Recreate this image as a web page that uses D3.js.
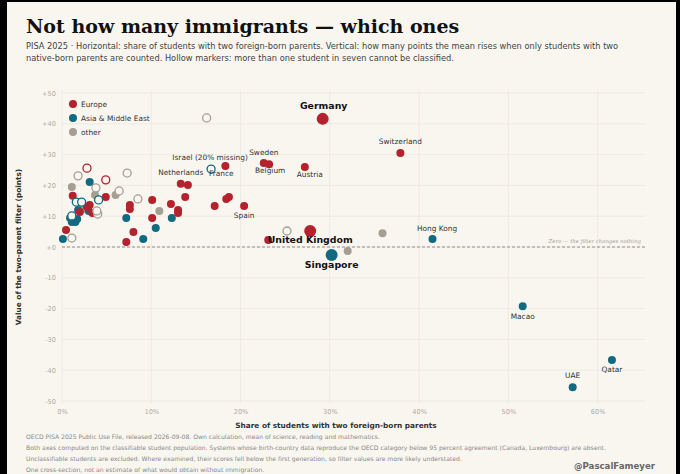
<!DOCTYPE html>
<html>
<head>
<meta charset="utf-8">
<script src="https://cdn.jsdelivr.net/npm/d3@7"></script>
<style>
    html, body { margin: 0; padding: 0; background: #000; }
    svg { display: block; }
</style>
</head>
<body>
<svg id="chart" width="680" height="474" font-family="DejaVu Sans, sans-serif"></svg>
<script>
// share of students with two foreign-born parents (%), filter value (points), hollow = >1/7 unclassifiable
var europe = [
    { name: 'Germany',        share: 29.2, gain: 41.6 },
    { name: 'Switzerland',    share: 37.9, gain: 30.5 },
    { name: 'Sweden',         share: 22.6, gain: 27.3 },
    { name: 'Belgium',        share: 23.2, gain: 26.9 },
    { name: 'Austria',        share: 27.2, gain: 26.0 },
    { name: 'France',         share: 18.3, gain: 26.3 },
    { name: 'Netherlands',    share: 13.3, gain: 20.5 },
    { name: '', share: 14.1, gain: 20.1 },
    { name: '', share: 13.8, gain: 16.2 },
    { name: '', share: 12.2, gain: 14.0 },
    { name: '', share: 13.0, gain: 12.0 },
    { name: '', share: 13.0, gain: 11.0 },
    { name: '', share: 17.1, gain: 13.3 },
    { name: '', share: 18.4, gain: 15.6 },
    { name: '', share: 18.7, gain: 16.2 },
    { name: 'Spain',          share: 20.4, gain: 13.3 },
    { name: 'United Kingdom', share: 27.8, gain: 5.2 },
    { name: '', share: 23.1, gain: 2.3 },
    { name: '', share: 10.1, gain: 15.3 },
    { name: '', share: 10.1, gain: 9.4 },
    { name: '', share: 7.6,  gain: 13.6 },
    { name: '', share: 7.6,  gain: 12.3 },
    { name: '', share: 8.0,  gain: 4.9 },
    { name: '', share: 7.2,  gain: 1.6 },
    { name: '', share: 4.9,  gain: 16.2 },
    { name: '', share: 1.2,  gain: 16.6 },
    { name: '', share: 2.0,  gain: 11.4 },
    { name: '', share: 2.8,  gain: 13.0 },
    { name: '', share: 3.1,  gain: 13.6 },
    { name: '', share: 3.4,  gain: 11.0 },
    { name: '', share: 0.45, gain: 5.5 },
    { name: '', share: 2.8,  gain: 25.6, hollow: true },
    { name: '', share: 4.9,  gain: 21.8, hollow: true }
];

var asiaMiddleEast = [
    { name: 'Singapore', share: 30.2, gain: -2.6 },
    { name: 'Hong Kong', share: 41.5, gain: 2.6 },
    { name: 'Macao',     share: 51.6, gain: -19.2 },
    { name: 'Qatar',     share: 61.6, gain: -36.7 },
    { name: 'UAE',       share: 57.2, gain: -45.5 },
    { name: '', share: 3.1,  gain: 21.1 },
    { name: '', share: 7.2,  gain: 9.4 },
    { name: '', share: 12.3, gain: 9.4 },
    { name: '', share: 10.5, gain: 6.2 },
    { name: '', share: 9.1,  gain: 2.6 },
    { name: '', share: 3.0,  gain: 11.7 },
    { name: '', share: 0.1,  gain: 2.6 },
    { name: '', share: 1.8,  gain: 12.0 },
    { name: '', share: 0.9,  gain: 9.4 },
    { name: '', share: 1.7,  gain: 9.1 },
    { name: '', share: 1.1,  gain: 8.1 },
    { name: '', share: 1.5,  gain: 8.1 },
    { name: 'Israel (20% missing)', share: 16.7, gain: 25.3, hollow: true },
    { name: '', share: 1.6,  gain: 14.6, hollow: true },
    { name: '', share: 2.2,  gain: 14.6, hollow: true },
    { name: '', share: 4.1,  gain: 15.3, hollow: true },
    { name: '', share: 1.1,  gain: 10.1, hollow: true }
];

var other = [
    { name: '', share: 32.0, gain: -1.3 },
    { name: '', share: 35.9, gain: 4.5 },
    { name: '', share: 10.9, gain: 11.7 },
    { name: '', share: 6.0,  gain: 16.9 },
    { name: '', share: 1.1,  gain: 19.5 },
    { name: '', share: 3.7,  gain: 16.9 },
    { name: '', share: 2.4,  gain: 12.3 },
    { name: '', share: 16.2, gain: 41.9, hollow: true },
    { name: '', share: 25.2, gain: 5.2,  hollow: true },
    { name: '', share: 1.8,  gain: 23.1, hollow: true },
    { name: '', share: 3.8,  gain: 19.2, hollow: true },
    { name: '', share: 6.4,  gain: 18.2, hollow: true },
    { name: '', share: 7.3,  gain: 24.0, hollow: true },
    { name: '', share: 8.5,  gain: 15.6, hollow: true },
    { name: '', share: 4.0,  gain: 10.7, hollow: true },
    { name: '', share: 3.9,  gain: 11.7, hollow: true },
    { name: '', share: 1.1,  gain: 2.9,  hollow: true }
];

var regions     = ['Europe', 'Asia & Middle East', 'other'];
var highlighted = ['Germany', 'United Kingdom', 'Singapore'];
var xTicks      = [0, 10, 20, 30, 40, 50, 60];
var yTicks      = [50, 40, 30, 20, 10, 0, -10, -20, -30, -40, -50];

var title    = 'Not how many immigrants \u2014 which ones';
var subtitle = [
    'PISA 2025 \u00b7 Horizontal: share of students with two foreign-born parents. Vertical: how many points the mean rises when only students with two',
    'native-born parents are counted. Hollow markers: more than one student in seven cannot be classified.'
];
var footer = [
    'OECD PISA 2025 Public Use File, released 2026-09-08. Own calculation, mean of science, reading and mathematics.',
    'Both axes computed on the classifiable student population. Systems whose birth-country data reproduce the OECD category below 95 percent agreement (Canada, Luxembourg) are absent.',
    'Unclassifiable students are excluded. Where examined, their scores fell below the first generation, so filter values are more likely understated.',
    'One cross-section, not an estimate of what would obtain without immigration.'
];

// label offsets from the marker centre
var labelPos = {
    'Germany':              [1, -10],
    'Switzerland':          [0, -9],
    'Sweden':               [0, -8],
    'Belgium':              [1, 9],
    'Austria':              [5, 10],
    'France':               [-4, 10],
    'Israel (20% missing)': [-1, -9],
    'Netherlands':          [0, -9],
    'Spain':                [0, 12],
    'United Kingdom':       [0, 12.5],
    'Singapore':            [0, 13],
    'Hong Kong':            [4.5, -8],
    'Macao':                [0, 13],
    'Qatar':                [0, 11.5],
    'UAE':                  [0, -9]
};

var colors = { 'Europe': '#b3222d', 'Asia & Middle East': '#116a80', 'other': '#a49e93' };
var bg = '#f9f6f0';
var serif = 'DejaVu Serif, serif';

var svg = d3.select('#chart');

svg.append('rect')
    .attr('x', 7).attr('y', 2)
    .attr('width', 669).attr('height', 472)
    .attr('fill', bg)
;

var x = d3.scaleLinear().domain([0, 65.3]).range([62, 645]);
var y = d3.scaleLinear().domain([-50, 50]).range([401, 93]);

// grid
var grid = svg.append('g').attr('class', 'grid');

grid.selectAll('.gx')
    .data(xTicks)
    .enter().append('line')
    .attr('x1', d => x(d)).attr('x2', d => x(d))
    .attr('y1', y(50) - 3).attr('y2', y(-50) + 3)
    .attr('stroke', '#ece7de').attr('stroke-width', 0.8)
;

grid.selectAll('.gy')
    .data(yTicks)
    .enter().append('line')
    .attr('x1', x(0)).attr('x2', x(65.3))
    .attr('y1', d => y(d)).attr('y2', d => y(d))
    .attr('stroke', '#ece7de').attr('stroke-width', 0.8)
;

// axes (labels only)
var yAxis = d3.axisLeft(y)
    .tickValues(yTicks)
    .tickSize(0)
    .tickPadding(6)
    .tickFormat(d => (d >= 0 ? '+' : '-') + Math.abs(d))
;

var xAxis = d3.axisBottom(x)
    .tickValues(xTicks)
    .tickSize(0)
    .tickPadding(8)
    .tickFormat(d => d + '%')
;

svg.append('g')
    .attr('transform', `translate(${ x(0) }, 0)`)
    .call(yAxis)
    .call(g => g.select('.domain').remove())
    .selectAll('text')
    .attr('font-family', 'DejaVu Sans, sans-serif')
    .attr('font-size', 6.6)
    .attr('fill', '#b0aba2')
;

svg.append('g')
    .attr('transform', `translate(0, ${ y(-50) })`)
    .call(xAxis)
    .call(g => g.select('.domain').remove())
    .selectAll('text')
    .attr('font-family', 'DejaVu Sans, sans-serif')
    .attr('font-size', 6.6)
    .attr('fill', '#b0aba2')
;

// zero line
svg.append('line')
    .attr('x1', x(0)).attr('x2', x(65.3))
    .attr('y1', y(0)).attr('y2', y(0))
    .attr('stroke', '#777').attr('stroke-width', 0.8)
    .attr('stroke-dasharray', '3,2')
;

svg.append('text')
    .attr('x', 641).attr('y', y(0) - 4)
    .attr('text-anchor', 'end')
    .attr('font-family', serif)
    .attr('font-style', 'italic')
    .attr('font-size', 5.4)
    .attr('fill', '#a39f97')
    .text('Zero \u2014 the filter changes nothing')
;

// points
var points = []
    .concat(other.map(d => Object.assign({ region: 'other' }, d)))
    .concat(asiaMiddleEast.map(d => Object.assign({ region: 'Asia & Middle East' }, d)))
    .concat(europe.map(d => Object.assign({ region: 'Europe' }, d)))
;
points.forEach(d => { d.big = highlighted.indexOf(d.name) >= 0; });
points.sort((a, b) => (a.hollow ? 1 : 0) - (b.hollow ? 1 : 0) || (a.big ? 1 : 0) - (b.big ? 1 : 0));

svg.append('g')
    .selectAll('circle')
    .data(points)
    .enter().append('circle')
    .attr('cx', d => x(d.share))
    .attr('cy', d => y(d.gain))
    .attr('r', d => d.big ? 6 : 4)
    .attr('fill', d => d.hollow ? bg : colors[d.region])
    .attr('stroke', d => d.hollow ? colors[d.region] : 'none')
    .attr('stroke-width', 1.3)
;

// labels
svg.append('g')
    .selectAll('text')
    .data(points.filter(d => d.name))
    .enter().append('text')
    .attr('x', d => x(d.share) + labelPos[d.name][0])
    .attr('y', d => y(d.gain) + labelPos[d.name][1])
    .attr('text-anchor', 'middle')
    .attr('font-size', d => d.big ? 9.4 : 7.4)
    .attr('font-weight', d => d.big ? 'bold' : 'normal')
    .attr('fill', d => d.big ? '#111' : '#333')
    .text(d => d.name)
;

// legend
var legend = svg.append('g')
    .selectAll('g')
    .data(regions)
    .enter().append('g')
    .attr('transform', (d, i) => `translate(73, ${ 104 + i * 14 })`)
;
legend.append('circle').attr('r', 4).attr('fill', d => colors[d]);
legend.append('text')
    .attr('x', 8).attr('y', 2.6)
    .attr('font-size', 7.4)
    .attr('fill', '#333')
    .text(d => d)
;

// titles
svg.append('text')
    .attr('x', 26).attr('y', 33)
    .attr('font-family', serif)
    .attr('font-weight', 'bold')
    .attr('font-size', 19)
    .attr('fill', '#111')
    .text(title)
;

svg.append('g')
    .selectAll('text')
    .data(subtitle)
    .enter().append('text')
    .attr('x', 26).attr('y', (d, i) => 49 + i * 12)
    .attr('font-size', 8.25)
    .attr('fill', '#444')
    .text(d => d)
;

svg.append('text')
    .attr('transform', `translate(21, ${ y(0) }) rotate(-90)`)
    .attr('text-anchor', 'middle')
    .attr('font-size', 7.35)
    .attr('font-weight', 'bold')
    .attr('fill', '#333')
    .text('Value of the two-parent filter (points)')
;

svg.append('text')
    .attr('x', 336).attr('y', 428)
    .attr('text-anchor', 'middle')
    .attr('font-size', 7.35)
    .attr('font-weight', 'bold')
    .attr('fill', '#333')
    .text('Share of students with two foreign-born parents')
;

svg.append('g')
    .selectAll('text')
    .data(footer)
    .enter().append('text')
    .attr('x', 26).attr('y', (d, i) => 439 + i * 11)
    .attr('font-size', 6.1)
    .attr('fill', '#888')
    .text(d => d)
;

svg.append('text')
    .attr('x', 655).attr('y', 469)
    .attr('text-anchor', 'end')
    .attr('font-size', 8.6)
    .attr('font-weight', 'bold')
    .attr('fill', '#666')
    .text('@PascalFameyer')
;
</script>
</body>
</html>
